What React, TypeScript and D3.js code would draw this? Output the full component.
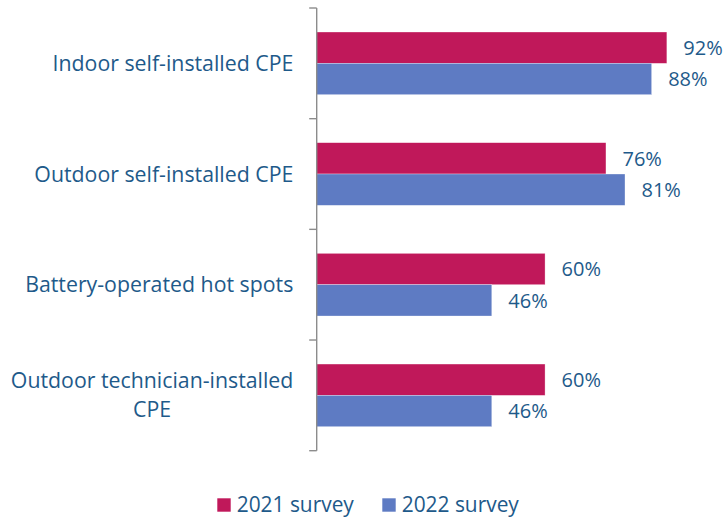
import React, { useEffect, useRef } from "react";
import * as d3 from "d3";

const categories: string[][] = [
  ["Indoor self-installed CPE"],
  ["Outdoor self-installed CPE"],
  ["Battery-operated hot spots"],
  ["Outdoor technician-installed", "CPE"],
];
const seriesNames = ["2021 survey", "2022 survey"];
const values2021 = [92, 76, 60, 60];
const values2022 = [88, 81, 46, 46];
const seriesColors = ["#C0185A", "#5E7BC3"];
const textColor = "#1E5A8A";
const FONT = "'Open Sans', 'Noto Sans', sans-serif";

export default function App() {
  const ref = useRef<SVGSVGElement>(null);

  useEffect(() => {
    const svg = d3.select(ref.current);
    svg.selectAll("*").remove();

    const x0 = 316.7;
    const x = d3.scaleLinear().domain([0, 100]).range([x0, x0 + 380.6]);
    const keys = categories.map((c) => c.join(" "));
    const y = d3.scaleBand<string>().domain(keys).range([8, 450.7]).padding(0);
    const bw = y.bandwidth();
    const inner = d3
      .scaleBand<string>()
      .domain(seriesNames)
      .range([bw * 0.217, bw * 0.783])
      .padding(0);
    const series = [values2021, values2022];

    // bars
    series.forEach((vals, si) => {
      svg
        .append("g")
        .selectAll("rect")
        .data(vals)
        .join("rect")
        .attr("x", x(0))
        .attr("y", (_d, i) => (y(keys[i]) as number) + (inner(seriesNames[si]) as number))
        .attr("width", (d) => x(d) - x(0))
        .attr("height", inner.bandwidth())
        .attr("fill", seriesColors[si])
        .attr("stroke", "rgba(255,255,255,0.5)")
        .attr("stroke-width", 0.6);

      svg
        .append("g")
        .selectAll("text")
        .data(vals)
        .join("text")
        .attr("x", (d) => x(d) + 16.5)
        .attr(
          "y",
          (_d, i) =>
            (y(keys[i]) as number) + (inner(seriesNames[si]) as number) + inner.bandwidth() / 2 + 7.2
        )
        .attr("font-family", FONT)
        .attr("font-size", 20)
        .attr("fill", textColor)
        .text((d) => `${d}%`);
    });

    // axis
    const axisG = svg.append("g");
    axisG
      .append("line")
      .attr("x1", x0)
      .attr("x2", x0)
      .attr("y1", 8)
      .attr("y2", 450.7)
      .attr("stroke", "#8C8C8C")
      .attr("stroke-width", 1.4);
    const tickYs = keys.map((k) => y(k) as number).concat([8 + bw * keys.length]);
    axisG
      .selectAll("line.tick")
      .data(tickYs)
      .join("line")
      .attr("class", "tick")
      .attr("x1", x0 - 7.5)
      .attr("x2", x0)
      .attr("y1", (d) => d)
      .attr("y2", (d) => d)
      .attr("stroke", "#8C8C8C")
      .attr("stroke-width", 1.4);

    // category labels
    const rightEdge = 293.3;
    const lineH = 29;
    categories.forEach((lines, i) => {
      const cy = (y(keys[i]) as number) + bw / 2;
      const t = svg
        .append("text")
        .attr("font-family", FONT)
        .attr("font-size", 21.3)
        .attr("fill", textColor)
        .attr("text-anchor", "middle");
      const tspans = lines.map((ln, li) =>
        t
          .append("tspan")
          .attr("y", cy + 7.5 + (li - (lines.length - 1) / 2) * lineH)
          .text(ln)
      );
      const widths = tspans.map((ts) => (ts.node() as SVGTSpanElement).getComputedTextLength());
      const maxW = Math.max(...widths);
      const cx = rightEdge - maxW / 2;
      tspans.forEach((ts) => ts.attr("x", cx));
    });

    // legend
    const legend = svg.append("g");
    const legendX = [217.3, 382.3];
    seriesNames.forEach((name, i) => {
      legend
        .append("rect")
        .attr("x", legendX[i])
        .attr("y", 498.3)
        .attr("width", 13.4)
        .attr("height", 13.4)
        .attr("fill", seriesColors[i]);
      legend
        .append("text")
        .attr("x", legendX[i] + 19.4)
        .attr("y", 511.7)
        .attr("font-family", FONT)
        .attr("font-size", 20.9)
        .attr("fill", textColor)
        .text(name);
    });
  }, []);

  return (
    <svg
      ref={ref}
      width={727}
      height={518}
      style={{ position: "absolute", left: 0, top: 0, background: "#fff" }}
    />
  );
}
